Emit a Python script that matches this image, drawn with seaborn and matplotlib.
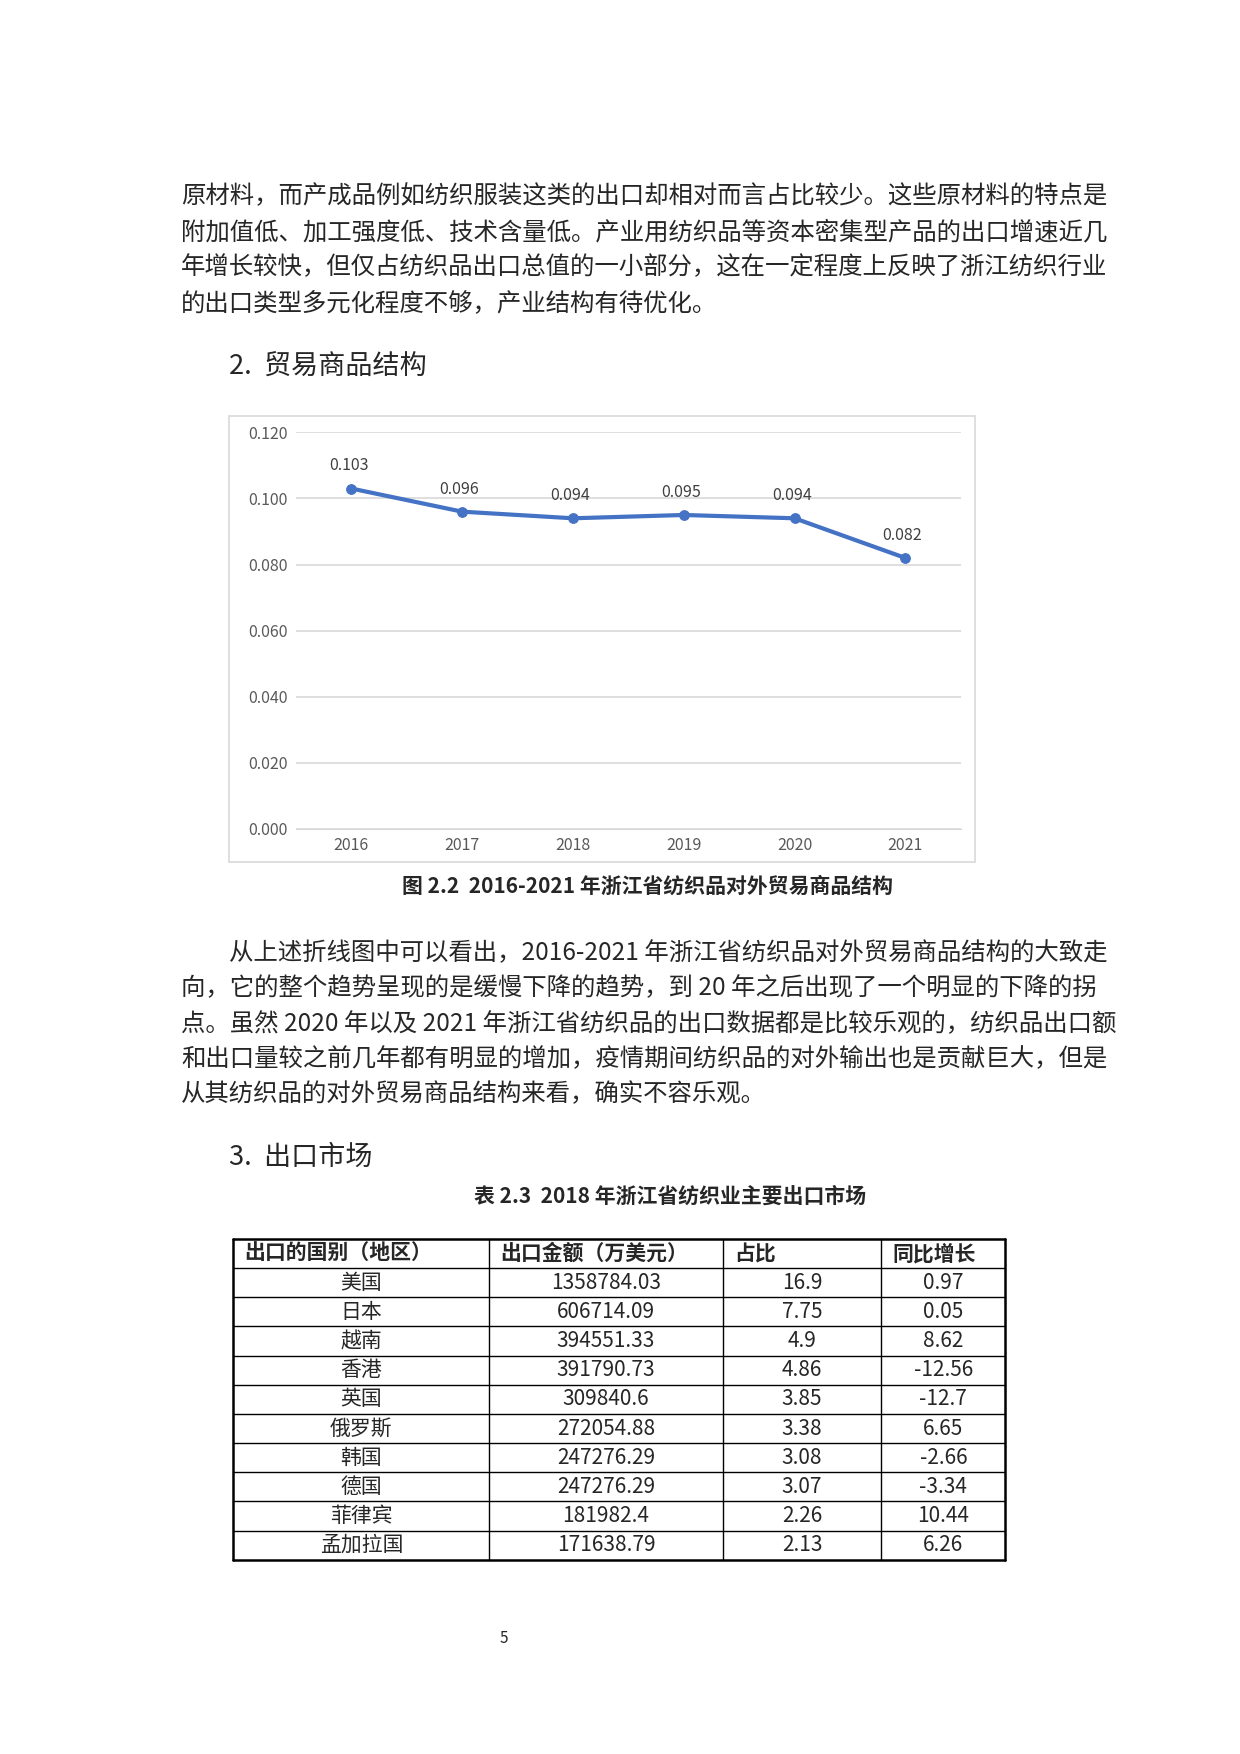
import matplotlib
matplotlib.use("Agg")
import matplotlib.pyplot as plt
import seaborn as sns
import pandas as pd
from matplotlib.patches import Rectangle
from matplotlib.lines import Line2D

sns.set_style("white")
plt.rcParams['font.family'] = ['Noto Sans CJK SC', 'DejaVu Sans']

# data
years = ["2016", "2017", "2018", "2019", "2020", "2021"]
ratio = [0.103, 0.096, 0.094, 0.095, 0.094, 0.082]

table_header = ["出口的国别（地区）", "出口金额（万美元）", "占比", "同比增长"]
countries = ["美国", "日本", "越南", "香港", "英国", "俄罗斯", "韩国", "德国", "菲律宾", "孟加拉国"]
amounts = ["1358784.03", "606714.09", "394551.33", "391790.73", "309840.6",
           "272054.88", "247276.29", "247276.29", "181982.4", "171638.79"]
shares = ["16.9", "7.75", "4.9", "4.86", "3.85", "3.38", "3.08", "3.07", "2.26", "2.13"]
growth = ["0.97", "0.05", "8.62", "-12.56", "-12.7", "6.65", "-2.66", "-3.34", "10.44", "6.26"]

para1 = ["原材料，而产成品例如纺织服装这类的出口却相对而言占比较少。这些原材料的特点是",
         "附加值低、加工强度低、技术含量低。产业用纺织品等资本密集型产品的出口增速近几",
         "年增长较快，但仅占纺织品出口总值的一小部分，这在一定程度上反映了浙江纺织行业",
         "的出口类型多元化程度不够，产业结构有待优化。"]
para2 = ["从上述折线图中可以看出，2016-2021 年浙江省纺织品对外贸易商品结构的大致走",
         "向，它的整个趋势呈现的是缓慢下降的趋势，到 20 年之后出现了一个明显的下降的拐",
         "点。虽然 2020 年以及 2021 年浙江省纺织品的出口数据都是比较乐观的，纺织品出口额",
         "和出口量较之前几年都有明显的增加，疫情期间纺织品的对外输出也是贡献巨大，但是",
         "从其纺织品的对外贸易商品结构来看，确实不容乐观。"]

W, H = 1110.0, 1570.0
fig = plt.figure(figsize=(12.4, 17.54), dpi=100)


def fx(x):
    return x / W


def fy(y):
    return 1 - y / H


def txt(x, y, s, **kw):
    fig.text(fx(x), fy(y), s, va='center', **kw)


body = 17.6
for i, line in enumerate(para1):
    txt(162, 176 + i * 31.7, line, fontsize=body)
txt(205, 328, "2.  贸易商品结构", fontsize=19.5)

# chart frame
fig.patches.append(Rectangle((fx(205), fy(772)), fx(873) - fx(205), fy(372) - fy(772),
                             transform=fig.transFigure, fill=False, ec='#d9d9d9', lw=1.2))
ax = fig.add_axes([fx(265), fy(742), fx(860) - fx(265), fy(387) - fy(742)])
df = pd.DataFrame({"year": years, "ratio": ratio})
sns.lineplot(data=df, x="year", y="ratio", ax=ax, color='#4472C4', lw=3,
             marker='o', markersize=7, markeredgecolor='#4472C4', sort=False)
ax.set_ylim(0, 0.12)
ax.set_xlim(-0.5, 5.5)
ax.set_yticks([0, 0.02, 0.04, 0.06, 0.08, 0.10, 0.12])
ax.set_yticklabels([f"{v:.3f}" for v in ax.get_yticks()])
ax.yaxis.grid(True, color='#d9d9d9', lw=1.2)
for s in ['top', 'right', 'left']:
    ax.spines[s].set_visible(False)
ax.spines['bottom'].set_color('#d9d9d9')
ax.set_xlabel("")
ax.set_ylabel("")
ax.tick_params(colors='#595959', labelsize=11.5, length=0, pad=6)
for i, v in enumerate(ratio):
    ax.annotate(f"{v:.3f}", (i, v), xytext=(-2, 13), textcoords='offset points',
                ha='center', fontsize=11.5, color='#404040')
txt(580, 793, "图 2.2  2016-2021 年浙江省纺织品对外贸易商品结构", fontsize=15,
    fontweight='bold', ha='center')

for i, line in enumerate(para2):
    txt(205 if i == 0 else 162, 853 + i * 31.7, line, fontsize=body)
txt(205, 1036, "3.  出口市场", fontsize=19.5)
txt(600, 1071, "表 2.3  2018 年浙江省纺织业主要出口市场", fontsize=15,
    fontweight='bold', ha='center')

# table
cols = [209, 438, 647, 789, 900]
top, rh = 1109, 26.1
nrows = len(countries) + 1
bottom = top + rh * nrows
for i in range(nrows + 1):
    y = top + i * rh
    fig.add_artist(Line2D([fx(cols[0]), fx(cols[-1])], [fy(y), fy(y)], color='black',
                          lw=1.8 if i in (0, nrows) else 1.0))
for j, x in enumerate(cols):
    fig.add_artist(Line2D([fx(x), fx(x)], [fy(top), fy(bottom)], color='black',
                          lw=1.8 if j in (0, len(cols) - 1) else 1.0))
for j, h in enumerate(table_header):
    txt(cols[j] + 10, top + rh / 2, h, fontsize=15, fontweight='bold')
rows = list(zip(countries, amounts, shares, growth))
for i, r in enumerate(rows):
    yc = top + rh * (i + 1.5)
    for j, v in enumerate(r):
        txt((cols[j] + cols[j + 1]) / 2, yc, v, fontsize=15, ha='center')

txt(451, 1467, "5", fontsize=11, ha='center')

fig.savefig("out.png", dpi=100)
